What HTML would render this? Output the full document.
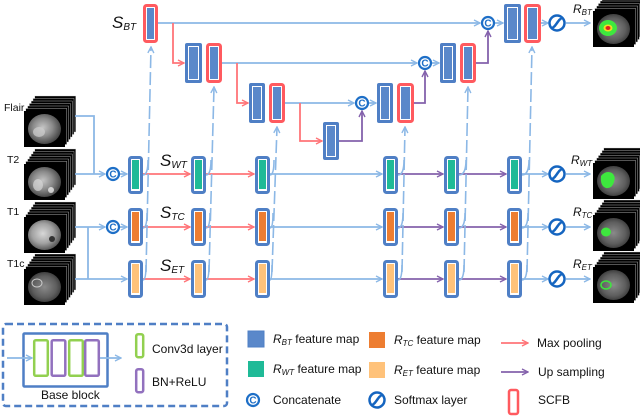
<!DOCTYPE html>
<html>
<head>
<meta charset="utf-8">
<style>
  html,body{margin:0;padding:0;background:#fff;}
  svg{display:block;}
  text{font-family:"Liberation Sans",Arial,sans-serif;fill:#111;}
</style>
</head>
<body>
<svg width="640" height="417" viewBox="0 0 640 417" xmlns="http://www.w3.org/2000/svg">
<defs>
  <marker id="mb" viewBox="0 0 8 8" refX="7" refY="4" markerWidth="8" markerHeight="8" markerUnits="userSpaceOnUse" orient="auto">
    <path d="M1,1 L7,4 L1,7" fill="none" stroke="#8CB8E6" stroke-width="1.4"/>
  </marker>
  <marker id="mp" viewBox="0 0 8 8" refX="7" refY="4" markerWidth="8" markerHeight="8" markerUnits="userSpaceOnUse" orient="auto">
    <path d="M1,1 L7,4 L1,7" fill="none" stroke="#FF7478" stroke-width="1.4"/>
  </marker>
  <marker id="mu" viewBox="0 0 8 8" refX="7" refY="4" markerWidth="8" markerHeight="8" markerUnits="userSpaceOnUse" orient="auto">
    <path d="M1,1 L7,4 L1,7" fill="none" stroke="#8462AC" stroke-width="1.4"/>
  </marker>
  <radialGradient id="gIn" cx="45%" cy="45%" r="60%">
    <stop offset="0" stop-color="#c4c4c4"/>
    <stop offset="0.5" stop-color="#8a8a8a"/>
    <stop offset="1" stop-color="#3a3a3a"/>
  </radialGradient>
  <radialGradient id="gIn2" cx="45%" cy="45%" r="60%">
    <stop offset="0" stop-color="#d8d8d8"/>
    <stop offset="0.55" stop-color="#a2a2a2"/>
    <stop offset="1" stop-color="#4a4a4a"/>
  </radialGradient>
  <radialGradient id="gOut" cx="50%" cy="50%" r="60%">
    <stop offset="0" stop-color="#8a8a8a"/>
    <stop offset="0.6" stop-color="#5e5e5e"/>
    <stop offset="1" stop-color="#2a2a2a"/>
  </radialGradient>
  <g id="stk">
    <rect x="10.8" y="0" width="41" height="36" fill="#000" stroke="#d0d0d0" stroke-width="0.4"/>
    <rect x="9" y="2.5" width="41" height="36" fill="#000" stroke="#d0d0d0" stroke-width="0.4"/>
    <rect x="7.2" y="5" width="41" height="36" fill="#000" stroke="#d0d0d0" stroke-width="0.4"/>
    <rect x="5.4" y="7.5" width="41" height="36" fill="#000" stroke="#d0d0d0" stroke-width="0.4"/>
    <rect x="3.6" y="10" width="41" height="36" fill="#000" stroke="#d0d0d0" stroke-width="0.4"/>
    <rect x="1.8" y="12.5" width="41" height="36" fill="#000" stroke="#d0d0d0" stroke-width="0.4"/>
    <rect x="0" y="15" width="41" height="36" fill="#000"/>
  </g>
</defs>

<!-- ================= Input images ================= -->
<use href="#stk" x="24" y="96"/>
<ellipse cx="44.5" cy="129" rx="16.5" ry="15" fill="url(#gIn)"/>
<ellipse cx="39" cy="132" rx="6" ry="5" fill="#cfcfcf" opacity="0.7"/>
<use href="#stk" x="24" y="149"/>
<ellipse cx="44.5" cy="182" rx="16.5" ry="15" fill="url(#gIn)"/>
<ellipse cx="38" cy="185" rx="5" ry="6" fill="#d8d8d8" opacity="0.7"/>
<ellipse cx="51" cy="190" rx="3" ry="3" fill="#e8e8e8" opacity="0.8"/>
<use href="#stk" x="24" y="202"/>
<ellipse cx="44.5" cy="235" rx="16.5" ry="15" fill="url(#gIn2)"/>
<ellipse cx="52" cy="239" rx="3" ry="3" fill="#333"/>
<use href="#stk" x="24" y="254"/>
<ellipse cx="44.5" cy="287" rx="16.5" ry="15" fill="url(#gOut)"/>
<ellipse cx="37" cy="283" rx="5" ry="4" fill="none" stroke="#ccc" stroke-width="1"/>

<text x="4" y="111" font-size="10.5">Flair</text>
<text x="7" y="163" font-size="10.5">T2</text>
<text x="7" y="215" font-size="10.5">T1</text>
<text x="7" y="267" font-size="10.5">T1c</text>

<!-- ================= Output images ================= -->
<use href="#stk" x="593" y="-4"/>
<ellipse cx="613.5" cy="29" rx="16.5" ry="15" fill="url(#gOut)"/>
<ellipse cx="608" cy="28" rx="9" ry="8" fill="#3ee83e"/>
<ellipse cx="608" cy="28" rx="4.5" ry="3.5" fill="#f0e020"/>
<ellipse cx="608" cy="28" rx="2.5" ry="2" fill="#e02020"/>
<use href="#stk" x="593" y="148"/>
<ellipse cx="613.5" cy="181" rx="16.5" ry="15" fill="url(#gOut)"/>
<path d="M601,176 Q606,170 612,173 Q616,176 614,182 Q612,189 606,188 Q600,186 601,176Z" fill="#3ee83e"/>
<use href="#stk" x="593" y="200"/>
<ellipse cx="613.5" cy="233" rx="16.5" ry="15" fill="url(#gOut)"/>
<ellipse cx="606" cy="232" rx="5" ry="4.5" fill="#3ee83e"/>
<use href="#stk" x="593" y="252"/>
<ellipse cx="613.5" cy="285" rx="16.5" ry="15" fill="url(#gOut)"/>
<ellipse cx="606" cy="285" rx="5" ry="4" fill="none" stroke="#3ee83e" stroke-width="1.5"/>

<!-- R labels -->
<text x="573" y="13" font-size="12" font-style="italic">R<tspan font-size="8" dy="2">BT</tspan></text>
<text x="571" y="164" font-size="12" font-style="italic">R<tspan font-size="8" dy="2">WT</tspan></text>
<text x="573" y="216" font-size="12" font-style="italic">R<tspan font-size="8" dy="2">TC</tspan></text>
<text x="573" y="268" font-size="12" font-style="italic">R<tspan font-size="8" dy="2">ET</tspan></text>

<!-- S labels -->
<text x="112" y="28" font-size="17" font-style="italic">S<tspan font-size="10" dy="2">BT</tspan></text>
<text x="160" y="166" font-size="17" font-style="italic">S<tspan font-size="10" dy="2">WT</tspan></text>
<text x="160" y="218" font-size="17" font-style="italic">S<tspan font-size="10" dy="2">TC</tspan></text>
<text x="160" y="271" font-size="17" font-style="italic">S<tspan font-size="10" dy="2">ET</tspan></text>

<!-- ================= Input connection lines ================= -->
<g fill="none" stroke="#8CB8E6" stroke-width="1.8">
  <path d="M75,116 H94 V174"/>
  <path d="M75,174 H105" marker-end="url(#mb)"/>
  <path d="M120,174 H127" marker-end="url(#mb)"/>
  <path d="M75,227 H105" marker-end="url(#mb)"/>
  <path d="M120,227 H127" marker-end="url(#mb)"/>
  <path d="M88,227 V279"/>
  <path d="M75,279 H127" marker-end="url(#mb)"/>
</g>

<!-- ================= Row lines ================= -->
<g fill="none" stroke-width="1.8">
  <path d="M143,174 H190" stroke="#FF7478" marker-end="url(#mp)"/>
  <path d="M206,174 H254" stroke="#FF7478" marker-end="url(#mp)"/>
  <path d="M270,174 H382" stroke="#8CB8E6" marker-end="url(#mb)"/>
  <path d="M398,174 H443" stroke="#8462AC" marker-end="url(#mu)"/>
  <path d="M459,174 H506" stroke="#8462AC" marker-end="url(#mu)"/>
  <path d="M522,174 H548" stroke="#8CB8E6" marker-end="url(#mb)"/>
  <path d="M566,174 H590" stroke="#8CB8E6" marker-end="url(#mb)"/>
  <path d="M143,227 H190" stroke="#FF7478" marker-end="url(#mp)"/>
  <path d="M206,227 H254" stroke="#FF7478" marker-end="url(#mp)"/>
  <path d="M270,227 H382" stroke="#8CB8E6" marker-end="url(#mb)"/>
  <path d="M398,227 H443" stroke="#8462AC" marker-end="url(#mu)"/>
  <path d="M459,227 H506" stroke="#8462AC" marker-end="url(#mu)"/>
  <path d="M522,227 H548" stroke="#8CB8E6" marker-end="url(#mb)"/>
  <path d="M566,227 H590" stroke="#8CB8E6" marker-end="url(#mb)"/>
  <path d="M143,279 H190" stroke="#FF7478" marker-end="url(#mp)"/>
  <path d="M206,279 H254" stroke="#FF7478" marker-end="url(#mp)"/>
  <path d="M270,279 H382" stroke="#8CB8E6" marker-end="url(#mb)"/>
  <path d="M398,279 H443" stroke="#8462AC" marker-end="url(#mu)"/>
  <path d="M459,279 H506" stroke="#8462AC" marker-end="url(#mu)"/>
  <path d="M522,279 H548" stroke="#8CB8E6" marker-end="url(#mb)"/>
  <path d="M566,279 H590" stroke="#8CB8E6" marker-end="url(#mb)"/>
</g>

<!-- ================= Top U-Net lines ================= -->
<g fill="none" stroke-width="1.8">
  <path d="M158,23 H480" stroke="#8CB8E6" marker-end="url(#mb)"/>
  <path d="M173,23 V63 H184" stroke="#FF7478" marker-end="url(#mp)"/>
  <path d="M222,63 H417" stroke="#8CB8E6" marker-end="url(#mb)"/>
  <path d="M237,63 V103 H248" stroke="#FF7478" marker-end="url(#mp)"/>
  <path d="M285,103 H354" stroke="#8CB8E6" marker-end="url(#mb)"/>
  <path d="M300,103 V141 H322" stroke="#FF7478" marker-end="url(#mp)"/>
  <path d="M339,141 H362 V111" stroke="#8462AC" marker-end="url(#mu)"/>
  <path d="M369,103 H376" stroke="#8CB8E6" marker-end="url(#mb)"/>
  <path d="M414,103 H425 V71" stroke="#8462AC" marker-end="url(#mu)"/>
  <path d="M432,63 H439" stroke="#8CB8E6" marker-end="url(#mb)"/>
  <path d="M476,63 H488 V31" stroke="#8462AC" marker-end="url(#mu)"/>
  <path d="M495,23 H503" stroke="#8CB8E6" marker-end="url(#mb)"/>
  <path d="M541,23 H548" stroke="#8CB8E6" marker-end="url(#mb)"/>
  <path d="M566,23 H590" stroke="#8CB8E6" marker-end="url(#mb)"/>
</g>

<!-- ================= Dashed skip lines ================= -->
<g fill="none" stroke="#8CB8E6" stroke-width="1.6">
  <g stroke-dasharray="13 4">
    <path d="M146,272 L151,47" marker-end="url(#mb)"/>
    <path d="M209,272 L214,87" marker-end="url(#mb)"/>
    <path d="M272,272 L277,127" marker-end="url(#mb)"/>
    <path d="M402,272 L405,127" marker-end="url(#mb)"/>
    <path d="M464,272 L468,87" marker-end="url(#mb)"/>
    <path d="M527,272 L532,47" marker-end="url(#mb)"/>
  </g>
  <path d="M143,175 Q148,175 148,160"/>
  <path d="M143,228 Q147,228 147,213"/>
  <path d="M143,280 Q146,280 146,265"/>
  <path d="M206,175 Q211,175 211,160"/>
  <path d="M206,228 Q210,228 210,213"/>
  <path d="M206,280 Q209,280 209,265"/>
  <path d="M270,175 Q274,175 274,160"/>
  <path d="M270,228 Q273,228 273,213"/>
  <path d="M270,280 Q272,280 272,265"/>
  <path d="M398,175 Q404,175 404,160"/>
  <path d="M398,228 Q403,228 403,213"/>
  <path d="M398,280 Q402,280 402,265"/>
  <path d="M459,175 Q466,175 466,160"/>
  <path d="M459,228 Q465,228 465,213"/>
  <path d="M459,280 Q464,280 464,265"/>
  <path d="M522,175 Q529,175 529,160"/>
  <path d="M522,228 Q528,228 528,213"/>
  <path d="M522,280 Q527,280 527,265"/>
</g>

<!-- ================= Top blocks ================= -->
<rect x="144.5" y="5.5" width="12" height="36" rx="2" fill="#fff" stroke="#FF5A5F" stroke-width="3"/>
<rect x="147" y="8" width="7" height="31" fill="#5A88CA"/>
<rect x="185" y="43" width="17" height="40" rx="2" fill="#4F7FC5"/>
<rect x="188.5" y="46.5" width="10" height="33" fill="#5A88CA" stroke="#fff" stroke-width="1"/>
<rect x="207.5" y="44.5" width="13" height="37" rx="2" fill="#fff" stroke="#FF5A5F" stroke-width="3"/>
<rect x="210" y="47" width="8" height="32" fill="#5A88CA"/>
<rect x="249" y="83" width="16" height="40" rx="2" fill="#4F7FC5"/>
<rect x="252.5" y="86.5" width="9" height="33" fill="#5A88CA" stroke="#fff" stroke-width="1"/>
<rect x="270.5" y="84.5" width="13" height="37" rx="2" fill="#fff" stroke="#FF5A5F" stroke-width="3"/>
<rect x="273" y="87" width="8" height="32" fill="#5A88CA"/>
<rect x="323" y="122" width="16" height="38" rx="2" fill="#4F7FC5"/>
<rect x="326.5" y="125.5" width="9" height="31" fill="#5A88CA" stroke="#fff" stroke-width="1"/>
<rect x="377" y="83" width="16" height="40" rx="2" fill="#4F7FC5"/>
<rect x="380.5" y="86.5" width="9" height="33" fill="#5A88CA" stroke="#fff" stroke-width="1"/>
<rect x="398.5" y="84.5" width="14" height="37" rx="2" fill="#fff" stroke="#FF5A5F" stroke-width="3"/>
<rect x="401" y="87" width="9" height="32" fill="#5A88CA"/>
<rect x="440" y="43" width="16" height="40" rx="2" fill="#4F7FC5"/>
<rect x="443.5" y="46.5" width="9" height="33" fill="#5A88CA" stroke="#fff" stroke-width="1"/>
<rect x="461.5" y="44.5" width="13" height="37" rx="2" fill="#fff" stroke="#FF5A5F" stroke-width="3"/>
<rect x="464" y="47" width="8" height="32" fill="#5A88CA"/>
<rect x="504" y="4" width="17" height="39" rx="2" fill="#4F7FC5"/>
<rect x="507.5" y="7.5" width="10" height="32" fill="#5A88CA" stroke="#fff" stroke-width="1"/>
<rect x="525.5" y="5.5" width="14" height="36" rx="2" fill="#fff" stroke="#FF5A5F" stroke-width="3"/>
<rect x="528" y="8" width="9" height="31" fill="#5A88CA"/>

<!-- ================= Lower blocks ================= -->
<g stroke="#4F7FC5" stroke-width="3" fill="#fff">
  <rect x="129.5" y="157.5" width="12" height="35" rx="2"/>
  <rect x="192.5" y="157.5" width="12" height="35" rx="2"/>
  <rect x="256.5" y="157.5" width="12" height="35" rx="2"/>
  <rect x="384.5" y="157.5" width="12" height="35" rx="2"/>
  <rect x="445.5" y="157.5" width="12" height="35" rx="2"/>
  <rect x="508.5" y="157.5" width="12" height="35" rx="2"/>
  <rect x="129.5" y="209.5" width="12" height="35" rx="2"/>
  <rect x="192.5" y="209.5" width="12" height="35" rx="2"/>
  <rect x="256.5" y="209.5" width="12" height="35" rx="2"/>
  <rect x="384.5" y="209.5" width="12" height="35" rx="2"/>
  <rect x="445.5" y="209.5" width="12" height="35" rx="2"/>
  <rect x="508.5" y="209.5" width="12" height="35" rx="2"/>
  <rect x="129.5" y="261.5" width="12" height="35" rx="2"/>
  <rect x="192.5" y="261.5" width="12" height="35" rx="2"/>
  <rect x="256.5" y="261.5" width="12" height="35" rx="2"/>
  <rect x="384.5" y="261.5" width="12" height="35" rx="2"/>
  <rect x="445.5" y="261.5" width="12" height="35" rx="2"/>
  <rect x="508.5" y="261.5" width="12" height="35" rx="2"/>
</g>
<g fill="#1FBA97">
  <rect x="132" y="160" width="7" height="29"/>
  <rect x="195" y="160" width="7" height="29"/>
  <rect x="259" y="160" width="7" height="29"/>
  <rect x="387" y="160" width="7" height="29"/>
  <rect x="448" y="160" width="7" height="29"/>
  <rect x="511" y="160" width="7" height="29"/>
</g>
<g fill="#ED7D31">
  <rect x="132" y="212" width="7" height="29"/>
  <rect x="195" y="212" width="7" height="29"/>
  <rect x="259" y="212" width="7" height="29"/>
  <rect x="387" y="212" width="7" height="29"/>
  <rect x="448" y="212" width="7" height="29"/>
  <rect x="511" y="212" width="7" height="29"/>
</g>
<g fill="#FFC27A">
  <rect x="132" y="264" width="7" height="29"/>
  <rect x="195" y="264" width="7" height="29"/>
  <rect x="259" y="264" width="7" height="29"/>
  <rect x="387" y="264" width="7" height="29"/>
  <rect x="448" y="264" width="7" height="29"/>
  <rect x="511" y="264" width="7" height="29"/>
</g>

<!-- ================= Concatenate icons ================= -->
<g>
  <circle cx="113" cy="174" r="6" fill="#fff" stroke="#1E6FC7" stroke-width="2.2"/>
  <text x="113" y="177.6" font-size="10" font-weight="bold" text-anchor="middle" style="fill:#1E6FC7">C</text>
  <circle cx="113" cy="227" r="6" fill="#fff" stroke="#1E6FC7" stroke-width="2.2"/>
  <text x="113" y="230.6" font-size="10" font-weight="bold" text-anchor="middle" style="fill:#1E6FC7">C</text>
  <circle cx="362" cy="103" r="6" fill="#fff" stroke="#1E6FC7" stroke-width="2.2"/>
  <text x="362" y="106.6" font-size="10" font-weight="bold" text-anchor="middle" style="fill:#1E6FC7">C</text>
  <circle cx="425" cy="63" r="6" fill="#fff" stroke="#1E6FC7" stroke-width="2.2"/>
  <text x="425" y="66.6" font-size="10" font-weight="bold" text-anchor="middle" style="fill:#1E6FC7">C</text>
  <circle cx="488" cy="23" r="6" fill="#fff" stroke="#1E6FC7" stroke-width="2.2"/>
  <text x="488" y="26.6" font-size="10" font-weight="bold" text-anchor="middle" style="fill:#1E6FC7">C</text>
</g>

<!-- ================= Softmax icons ================= -->
<g fill="#fff" stroke="#1565C0" stroke-width="2.5">
  <circle cx="557" cy="23" r="7.5"/>
  <path d="M552,27 C555,29 559,17 562,19" fill="none"/>
  <circle cx="557" cy="174" r="7.5"/>
  <path d="M552,178 C555,180 559,168 562,170" fill="none"/>
  <circle cx="557" cy="227" r="7.5"/>
  <path d="M552,231 C555,233 559,221 562,223" fill="none"/>
  <circle cx="557" cy="279" r="7.5"/>
  <path d="M552,283 C555,285 559,273 562,275" fill="none"/>
</g>

<!-- ================= Legend ================= -->
<rect x="3" y="324" width="224" height="82" rx="3" fill="none" stroke="#4F7FC5" stroke-width="2.5" stroke-dasharray="7 4"/>
<rect x="23.5" y="333.5" width="84" height="53" rx="1" fill="none" stroke="#4F7FC5" stroke-width="2.5"/>
<rect x="34.2" y="340.2" width="13.6" height="35.6" rx="1.5" fill="#fff" stroke="#92D050" stroke-width="2.5"/>
<rect x="51.7" y="340.2" width="13.6" height="35.6" rx="1.5" fill="#fff" stroke="#9271BE" stroke-width="2.5"/>
<rect x="69.2" y="340.2" width="13.6" height="35.6" rx="1.5" fill="#fff" stroke="#92D050" stroke-width="2.5"/>
<rect x="85.2" y="340.2" width="13.6" height="35.6" rx="1.5" fill="#fff" stroke="#9271BE" stroke-width="2.5"/>
<path d="M7,358 H32" fill="none" stroke="#8CB8E6" stroke-width="1.8" marker-end="url(#mb)"/>
<path d="M100,358 H121" fill="none" stroke="#8CB8E6" stroke-width="1.8" marker-end="url(#mb)"/>
<text x="41" y="399" font-size="12">Base block</text>
<rect x="136.2" y="334.2" width="7" height="23" rx="2" fill="#fff" stroke="#92D050" stroke-width="2.5"/>
<text x="152" y="353" font-size="12">Conv3d layer</text>
<rect x="136.2" y="369.2" width="7" height="23" rx="2" fill="#fff" stroke="#9271BE" stroke-width="2.5"/>
<text x="152" y="386" font-size="12">BN+ReLU</text>

<rect x="248" y="331" width="16" height="16" fill="#5A88CA" stroke="#4F7FC5" stroke-width="1"/>
<text x="273" y="343" font-size="12"><tspan font-style="italic">R</tspan><tspan font-size="8" font-style="italic" dy="2">BT</tspan><tspan dy="-2"> feature map</tspan></text>
<rect x="248" y="361" width="16" height="16" fill="#1FBA97"/>
<text x="273" y="373" font-size="12"><tspan font-style="italic">R</tspan><tspan font-size="8" font-style="italic" dy="2">WT</tspan><tspan dy="-2"> feature map</tspan></text>
<circle cx="253" cy="400" r="6" fill="#fff" stroke="#1E6FC7" stroke-width="2.2"/>
<text x="253" y="403.6" font-size="10" font-weight="bold" text-anchor="middle" style="fill:#1E6FC7">C</text>
<text x="273" y="404" font-size="12">Concatenate</text>

<rect x="369" y="332" width="16" height="16" fill="#ED7D31"/>
<text x="394" y="344" font-size="12"><tspan font-style="italic">R</tspan><tspan font-size="8" font-style="italic" dy="2">TC</tspan><tspan dy="-2"> feature map</tspan></text>
<rect x="369" y="362" width="16" height="16" fill="#FFC27A"/>
<text x="394" y="374" font-size="12"><tspan font-style="italic">R</tspan><tspan font-size="8" font-style="italic" dy="2">ET</tspan><tspan dy="-2"> feature map</tspan></text>
<circle cx="377" cy="400" r="7.5" fill="#fff" stroke="#1565C0" stroke-width="2.5"/>
<path d="M372,404 C375,406 379,394 382,396" fill="none" stroke="#1565C0" stroke-width="2.5"/>
<text x="394" y="404" font-size="12">Softmax layer</text>

<path d="M501,343 H528" fill="none" stroke="#FF7478" stroke-width="1.8" marker-end="url(#mp)"/>
<text x="537" y="347" font-size="12">Max pooling</text>
<path d="M501,372 H528" fill="none" stroke="#8462AC" stroke-width="1.8" marker-end="url(#mu)"/>
<text x="538" y="376" font-size="12">Up sampling</text>
<rect x="509" y="390" width="9" height="24" rx="2" fill="#fff" stroke="#FF5A5F" stroke-width="2.5"/>
<text x="538" y="404" font-size="12">SCFB</text>
</svg>
</body>
</html>
